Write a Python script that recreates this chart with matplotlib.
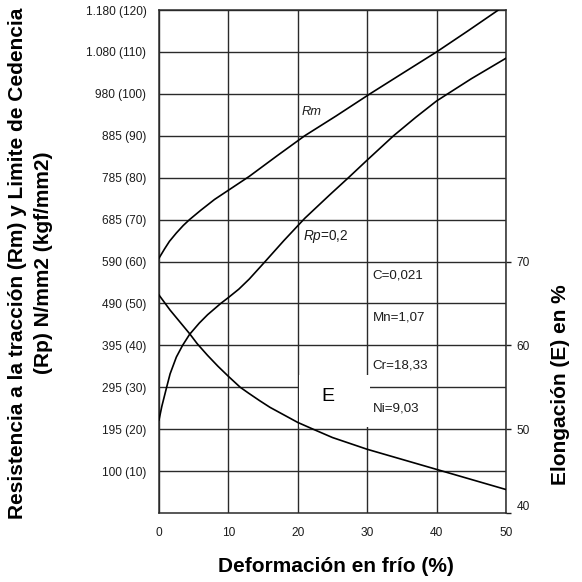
import matplotlib

matplotlib.use("Agg")
import matplotlib.pyplot as plt  # noqa: E402
from matplotlib.patches import Rectangle  # noqa: E402

plt.rcParams["font.family"] = ["Liberation Sans", "DejaVu Sans"]
plt.rcParams["mathtext.fontset"] = "custom"
plt.rcParams["mathtext.it"] = "Liberation Sans:italic"
plt.rcParams["mathtext.rm"] = "Liberation Sans"

# deformation (%) vs strength (kgf/mm2)
rm_x = [0, 0.8, 1.5, 2.5, 3.5, 4.4, 6, 8, 10, 13, 17, 21, 25.5, 30.4, 35, 40, 44.5, 48.9]
rm_y = [60.8, 63, 64.8, 66.8, 68.6, 70, 72.2, 74.8, 77, 80.3, 85.2, 90, 94.7, 100, 104.8,
        110, 115, 120]

rp_x = [0, 0.4, 1.1, 1.6, 2.5, 3.4, 4.4, 5.8, 7, 8.9, 10, 11.5, 13, 15.3, 18, 21, 24.6,
        27.3, 30, 33.8, 37, 40, 41.6, 45, 50]
rp_y = [22.2, 25.4, 30, 33.2, 37.2, 40, 42.6, 45.3, 47.3, 50, 51.4, 53.4, 55.8, 60, 65,
        70.3, 75.9, 80, 84.2, 90, 94.4, 98.3, 100, 103.6, 108.5]

# elongation (%) on the right axis
e_x = [0, 0.8, 1.6, 3, 4.4, 5.5, 7, 8.5, 10, 11.7, 12.9, 14.5, 16, 18, 20, 22.2, 25, 30,
       35, 40, 45, 50]
e_y = [66, 65.1, 64.2, 62.8, 61.4, 60.2, 58.8, 57.5, 56.3, 55, 54.3, 53.4, 52.6, 51.7,
       50.8, 50, 49.0, 47.6, 46.4, 45.2, 44.0, 42.8]

x_ticks = [0, 10, 20, 30, 40, 50]
y_ticks = [10, 20, 30, 40, 50, 60, 70, 80, 90, 100, 110, 120]
y_labels = ["100 (10)", "195 (20)", "295 (30)", "395 (40)", "490 (50)", "590 (60)",
            "685 (70)", "785 (80)", "885 (90)", "980 (100)", "1.080 (110)", "1.180 (120)"]
e_ticks = [40, 50, 60, 70]

composition = [("C=0,021", 56.6), ("Mn=1,07", 46.7), ("Cr=18,33", 35.1), ("Ni=9,03", 25.0)]

ink = "#1c1c1c"
grid_c = "#2a2a2a"

fig = plt.figure(figsize=(5.82, 5.82), dpi=100)
ax = fig.add_axes([159 / 582, 1 - 513 / 582, (506 - 159) / 582, (513 - 10) / 582])
ax.set_xlim(0, 50)
ax.set_ylim(0, 120)
ax.set_xticks(x_ticks)
ax.set_yticks(y_ticks)
ax.set_yticklabels(y_labels)
ax.tick_params(length=0, labelsize=8.6, colors=ink, pad=9)
ax.tick_params(axis="x", pad=10)
ax.grid(True, color=grid_c, lw=1.0)
ax.set_axisbelow(True)
for s in ax.spines.values():
    s.set_color(grid_c)
    s.set_linewidth(1.1)

# white patch behind the "E" label, covering the grid
ax.add_patch(Rectangle((20.12, 20.5), 10.35, 12.5, facecolor="white", edgecolor="none", zorder=1))

ax.plot(rm_x, rm_y, color="black", lw=1.2, zorder=3)
ax.plot(rp_x, rp_y, color="black", lw=1.2, zorder=3)

ax2 = ax.twinx()
ax2.set_ylim(40, 100)
ax2.set_yticks(e_ticks)
ax2.tick_params(length=3.5, width=1.0, colors=ink, labelsize=8.6, pad=4)
ax2.plot(e_x, e_y, color="black", lw=1.2, zorder=3)
for s in ax2.spines.values():
    s.set_visible(False)
ax2.get_yticklabels()[0].set_va("bottom")

ax.text(20.6, 95.7, "Rm", fontsize=9.3, style="italic", color=ink, va="center", ha="left", zorder=4)
ax.text(20.7, 65.9, "$Rp$=0,2", fontsize=9.8, color=ink, va="center", ha="left", zorder=4)
for txt, yv in composition:
    ax.text(30.8, yv, txt, fontsize=9.6, color=ink, va="center", ha="left", zorder=4)
ax.text(24.3, 27.7, "E", fontsize=14, color="black", va="center", ha="center", zorder=4)

fig.text(336 / 582, 1 - 567 / 582, "Deformación en frío (%)", fontsize=15, fontweight="bold",
         ha="center", va="center")
fig.text(30.5 / 582, 1 - 263 / 582,
         "Resistencia a la tracción (Rm) y Limite de Cedencia\n(Rp) N/mm2 (kgf/mm2)",
         fontsize=15, fontweight="bold", rotation=90, ha="center", va="center",
         linespacing=1.5, multialignment="center")
fig.text(560 / 582, 1 - 385 / 582, "Elongación (E) en %", fontsize=15, fontweight="bold",
         rotation=90, ha="center", va="center")

fig.savefig("out.png", dpi=100)
